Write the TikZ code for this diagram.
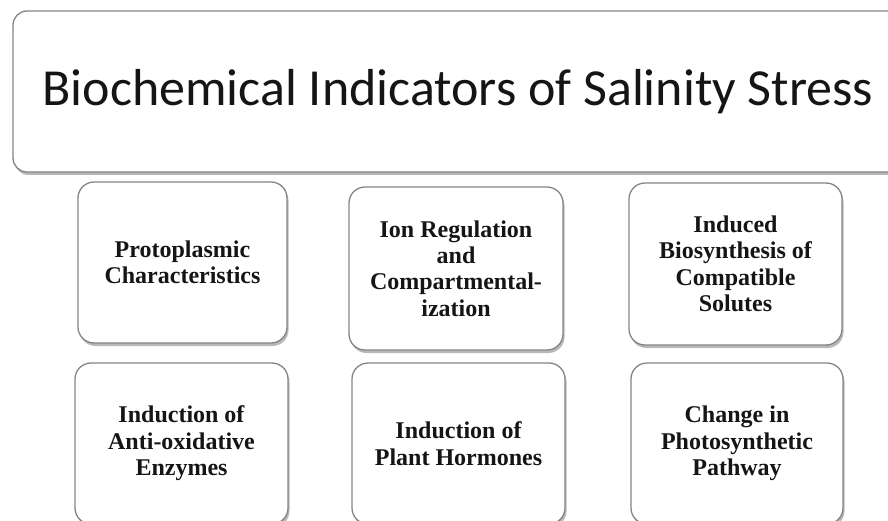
\documentclass[tikz,border=0pt]{standalone}
\usepackage{fontspec}
\setmainfont{Liberation Serif}
\newfontfamily\headfont{Carlito}
\usetikzlibrary{shadows}
\definecolor{boxgray}{HTML}{858585}
\definecolor{inkblack}{HTML}{151515}
\begin{document}
\begin{tikzpicture}[x=1pt,y=-1pt,
  panel/.style={draw=boxgray, line width=1.3pt, fill=white, rectangle,
    drop shadow={shadow xshift=1.5pt, shadow yshift=-3pt, opacity=0.5, fill=black!55}},
  headbox/.style={panel, rounded corners=14pt, minimum width=890pt, minimum height=161pt,
    font=\headfont\fontsize{52}{60}\selectfont, text=inkblack},
  card/.style={panel, rounded corners=16pt, minimum height=161pt, align=center,
    font=\bfseries\fontsize{24}{26.4}\selectfont, text=inkblack, inner sep=2pt}
]
\clip (0,0) rectangle (888,521);
\fill[white] (0,0) rectangle (888,521);

% heading
\node[headbox] (head) at (458,91.5) {Biochemical Indicators of Salinity Stress};

% first row of indicators
\node[card, minimum width=209pt] (proto) at (182.5,262.5) {Protoplasmic\\Characteristics};
\node[card, minimum width=214pt, minimum height=163pt] (ion) at (456,268.5) {Ion Regulation\\and\\Compartmental-\\ization};
\node[card, minimum width=213pt, minimum height=162pt] (solutes) at (735.5,264) {Induced\\Biosynthesis of\\Compatible\\Solutes};

% second row of indicators
\node[card, minimum width=213pt] (enzymes) at (181.5,443.5) {Induction of\\Anti-oxidative\\Enzymes};
\node[card, minimum width=213pt] (hormones) at (458.5,443.5) {Induction of\\Plant Hormones};
\node[card, minimum width=212pt] (photo) at (737,443.5) {Change in\\Photosynthetic\\Pathway};
\end{tikzpicture}
\end{document}
